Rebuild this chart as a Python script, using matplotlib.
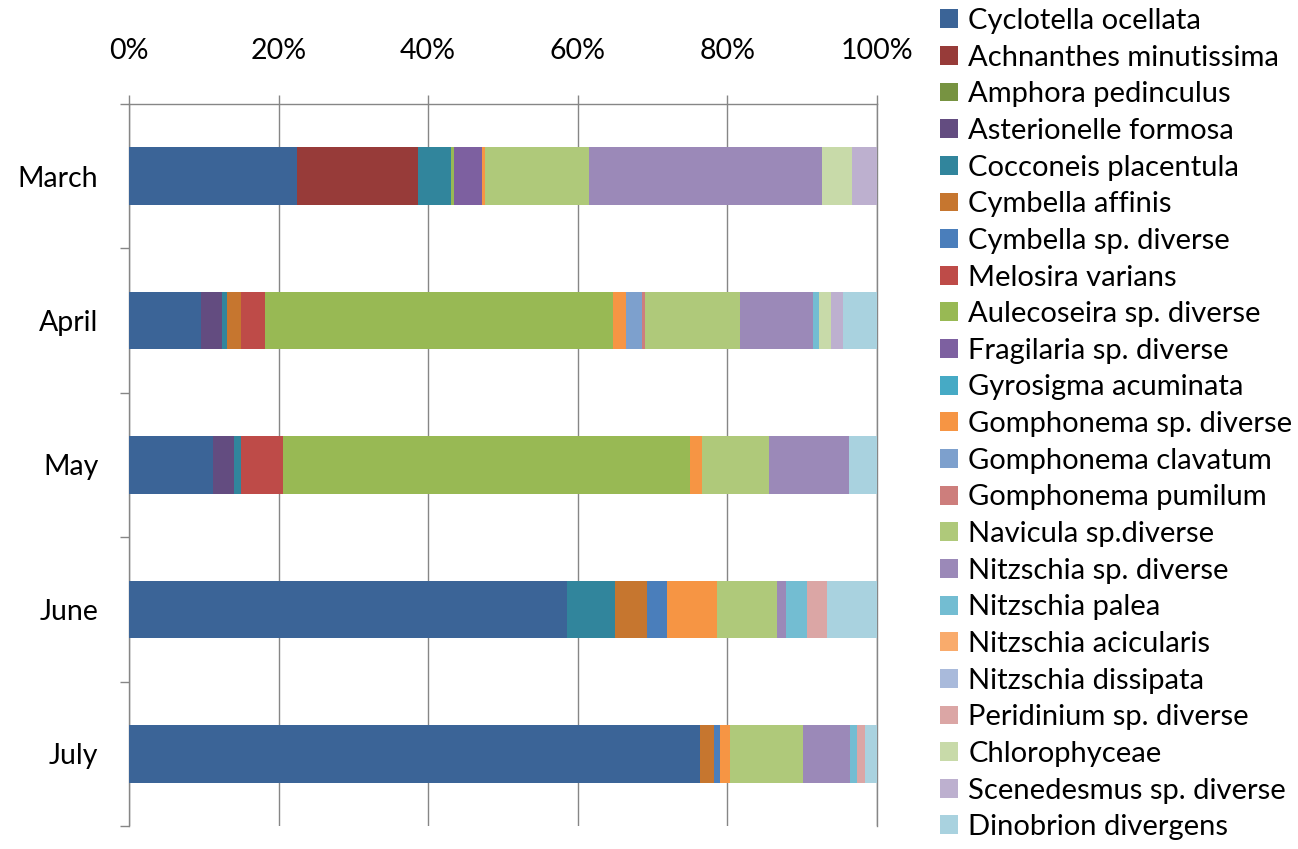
import matplotlib
matplotlib.use("Agg")
import matplotlib.pyplot as plt
import numpy as np
from matplotlib.patches import Patch

plt.rcParams['font.family'] = ['Lato', 'DejaVu Sans']

# Sampling months (top to bottom)
months = ["March", "April", "May", "June", "July"]

# Taxa, in stacking order
species = [
    "Cyclotella ocellata", "Achnanthes minutissima", "Amphora pedinculus",
    "Asterionelle formosa", "Cocconeis placentula", "Cymbella affinis",
    "Cymbella sp. diverse", "Melosira varians", "Aulecoseira sp. diverse",
    "Fragilaria sp. diverse", "Gyrosigma acuminata", "Gomphonema sp. diverse",
    "Gomphonema clavatum", "Gomphonema pumilum", "Navicula sp.diverse",
    "Nitzschia sp. diverse", "Nitzschia palea", "Nitzschia acicularis",
    "Nitzschia dissipata", "Peridinium sp. diverse", "Chlorophyceae",
    "Scenedesmus sp. diverse", "Dinobrion divergens",
]

# Relative abundance (%) of each taxon per month, same order as `species`
march = [22.5, 16.2, 0, 0, 4.4, 0, 0, 0, 0.4, 3.8, 0, 0.4, 0, 0, 13.9, 31.2, 0, 0, 0, 0, 3.9, 3.4, 0]
april = [9.6, 0, 0, 2.8, 0.7, 1.8, 0, 3.2, 46.5, 0, 0, 1.7, 2.1, 0.5, 12.6, 9.7, 0.9, 0, 0, 0, 1.6, 1.6, 4.5]
may = [11.2, 0, 0, 2.9, 0.9, 0, 0, 5.6, 54.4, 0, 0, 1.6, 0, 0, 9.0, 10.6, 0, 0, 0, 0, 0, 0, 3.8]
june = [58.5, 0, 0, 0, 6.5, 4.2, 2.7, 0, 0, 0, 0, 6.7, 0, 0, 8.0, 1.3, 2.7, 0, 0, 2.7, 0, 0, 6.7]
july = [76.3, 0, 0, 0, 0, 1.8, 0.8, 0, 0, 0, 0, 1.4, 0, 0, 9.7, 6.3, 0.9, 0, 0, 1.1, 0, 0, 1.6]

xtick_values = [0, 20, 40, 60, 80, 100]
xtick_labels = ["0%", "20%", "40%", "60%", "80%", "100%"]

colors = [
    "#3b6497", "#973b39", "#779341", "#634c80", "#31859c", "#c6762f",
    "#4a7ebb", "#be4b48", "#98b954", "#7d60a0", "#46aac5", "#f69544",
    "#7da0cd", "#cd7e7c", "#afc97a", "#9b89b8", "#73bdd2", "#f9ab6c",
    "#a9badb", "#dba6a5", "#c8daa9", "#bdb0cf", "#a9d2df",
]

table = np.array([march, april, may, june, july], dtype=float)
shares = table / table.sum(axis=1, keepdims=True) * 100.0

W, H = 1298, 849
fig = plt.figure(figsize=(W / 100, H / 100), dpi=100)
ax = fig.add_axes([129 / W, 1 - 826 / H, (877 - 129) / W, (826 - 104) / H])

grey = "#868686"
ypos = np.arange(len(months))
left = np.zeros(len(months))
for j, name in enumerate(species):
    ax.barh(ypos, shares[:, j], left=left, height=0.4, color=colors[j],
            edgecolor="none", label=name, zorder=3)
    left += shares[:, j]

ax.set_xlim(0, 100)
ax.set_ylim(len(months) - 0.5, -0.5)

# Percentage axis on top
ax.xaxis.tick_top()
ax.set_xticks(xtick_values)
ax.set_xticklabels(xtick_labels)
ax.tick_params(axis="x", which="major", direction="out", length=6.5, width=1,
               color=grey, labelsize=20.5, pad=22)
ax.grid(axis="x", color=grey, linewidth=1.0, zorder=0)

# Month labels with ticks between categories
ax.set_yticks(ypos)
ax.set_yticklabels(months)
ax.set_yticks(np.arange(-0.5, len(months) + 0.5, 1.0), minor=True)
ax.tick_params(axis="y", which="major", length=0, labelsize=20.5, pad=22)
ax.tick_params(axis="y", which="minor", direction="out", length=6.5, width=1,
               color=grey)

ax.spines["bottom"].set_visible(False)
for side in ("top", "left", "right"):
    ax.spines[side].set_color(grey)
    ax.spines[side].set_linewidth(1.0)

handles = [Patch(facecolor=c, edgecolor="none") for c in colors]
fig.legend(handles, species, loc="upper left",
           bbox_to_anchor=(940 / W, 1 - 8 / H), frameon=False,
           fontsize=21, handlelength=0.62, handleheight=0.62,
           handletextpad=0.35, labelspacing=0.365, borderpad=0,
           borderaxespad=0)

fig.savefig("out.png", dpi=100, facecolor="white")
